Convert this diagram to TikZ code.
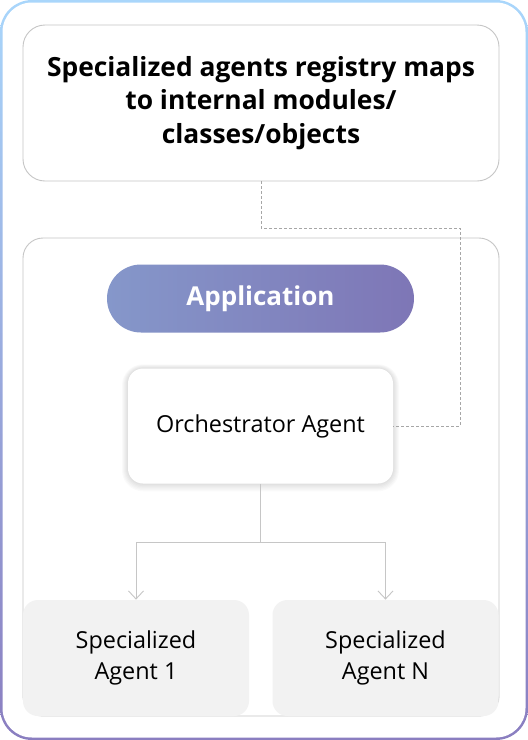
\documentclass[tikz,border=0pt]{standalone}
\usepackage{fontspec}
\setmainfont{Open Sans}
\usetikzlibrary{arrows.meta}

\definecolor{frametop}{HTML}{A9D6FB}
\definecolor{framebot}{HTML}{8A7EC0}
\definecolor{appleft}{HTML}{8597CA}
\definecolor{appright}{HTML}{7E76B6}
\definecolor{edgegray}{HTML}{C6C6C6}
\definecolor{agentfill}{HTML}{F2F2F2}

\begin{document}
\begin{tikzpicture}[x=1pt,y=-1pt,thick,
    panel/.style={draw=edgegray,line width=0.9pt,fill=white,inner sep=0pt},
    pill/.style={inner sep=0pt,rounded corners=34pt,left color=appleft,right color=appright,
      text=white,font=\fontsize{26}{30}\selectfont\bfseries},
    orch/.style={fill=white,inner sep=0pt,rounded corners=15pt,
      font=\fontsize{23.4}{28}\selectfont},
    agent/.style={fill=agentfill,inner sep=0pt,rounded corners=15pt,align=center,
      minimum width=226pt,minimum height=116pt,font=\fontsize{23.4}{31}\selectfont},
    link/.style={draw=edgegray,line width=0.9pt},
    dlink/.style={draw=gray!70,line width=0.8pt,dash pattern=on 3pt off 2pt}]
      \useasboundingbox (0,0) rectangle (528,740);

      % outer frame with a blue to purple border
      \shade[top color=frametop,bottom color=framebot,rounded corners=32pt] (0,0) rectangle (528,740);
      \fill[white,rounded corners=29.5pt] (2.5,2.5) rectangle (525.5,737.5);

      \node[panel,rounded corners=22pt,minimum width=476pt,minimum height=156pt,align=center,
        font=\fontsize{26.4}{33.5}\selectfont\bfseries] (registry) at (261,103)
        {Specialized agents registry maps\\to internal modules/\\classes/objects};
      \node[panel,rounded corners=20pt,minimum width=476pt,minimum height=478pt] (app) at (261,477) {};

      \node[agent] (agent1) at (136,658) {Specialized\\Agent 1};
      \node[agent] (agentn) at (385.5,658) {Specialized\\Agent N};

      \node[pill,minimum width=307pt,minimum height=68pt] (apptitle) at (260.5,298.5) {Application};

      % soft shadow under the orchestrator box
      \foreach \s in {1,...,6}
        \fill[black,opacity=0.018,rounded corners=15pt+\s pt]
          (128-\s,368.5-\s+0.3*\s) rectangle (393+\s,483.5+\s+0.3*\s);
      \node[orch,minimum width=265pt,minimum height=115pt] (orchestrator) at (260.5,426) {Orchestrator Agent};

      % dashed link from the registry to the orchestrator
      \coordinate (bend) at (460,228);
      \draw[dlink] (registry.south) |- (bend) |- (orchestrator.east);

      % orchestrator to the specialized agents
      \draw[link] (orchestrator.south) -- ++(0,59) coordinate (split);
      \draw[link,-{Straight Barb[length=8pt,width=15pt]}] (split) -| (agent1.north);
      \draw[link,-{Straight Barb[length=8pt,width=15pt]}] (split) -| (agentn.north);
\end{tikzpicture}
\end{document}
